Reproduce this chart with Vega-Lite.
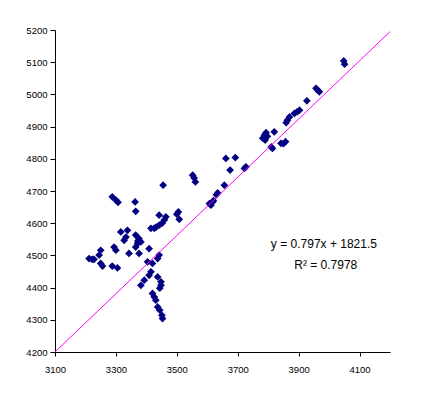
{
  "$schema": "https://vega.github.io/schema/vega-lite/v6.json",
  "width": 335,
  "height": 322,
  "autosize": "none",
  "padding": {"left": 55, "top": 30, "right": 41, "bottom": 45},
  "background": "white",
  "config": {"view": {"stroke": null}, "font": "Liberation Sans"},
  "encoding": {
    "x": {"field": "x", "type": "quantitative",
      "scale": {"domain": [3100, 4200], "nice": false, "zero": false},
      "axis": {"title": null, "grid": false, "values": [3100, 3300, 3500, 3700, 3900, 4100],
        "format": "d", "labelOverlap": false, "labelFlush": false,
        "domainColor": "black", "tickColor": "black", "labelColor": "black",
        "labelFontSize": 9.5, "tickSize": 4, "labelPadding": 8, "labelFont": "Liberation Sans"}},
    "y": {"field": "y", "type": "quantitative",
      "scale": {"domain": [4200, 5200], "nice": false, "zero": false},
      "axis": {"title": null, "grid": false, "values": [4200, 4300, 4400, 4500, 4600, 4700, 4800, 4900, 5000, 5100, 5200],
        "format": "d", "labelOverlap": false, "labelFlush": false, "tickCount": 11,
        "domainColor": "black", "tickColor": "black", "labelColor": "black",
        "labelFontSize": 9.5, "tickSize": 5, "labelPadding": 3, "labelFont": "Liberation Sans"}}
  },
  "layer": [
    {
      "data": {"values": [
        {"x":4048,"y":5104},{"x":4051,"y":5094},
        {"x":3957,"y":5019},{"x":3963,"y":5013},{"x":3968,"y":5008},
        {"x":3927,"y":4980},
        {"x":3903,"y":4951},{"x":3895,"y":4946},{"x":3886,"y":4941},{"x":3870,"y":4930},{"x":3863,"y":4920},{"x":3859,"y":4912},
        {"x":3793,"y":4881},{"x":3788,"y":4874},{"x":3782,"y":4864},{"x":3797,"y":4870},{"x":3790,"y":4858},
        {"x":3820,"y":4884},
        {"x":3810,"y":4837},{"x":3814,"y":4832},
        {"x":3842,"y":4848},{"x":3857,"y":4853},{"x":3850,"y":4847},
        {"x":3727,"y":4775},{"x":3722,"y":4770},
        {"x":3661,"y":4801},{"x":3692,"y":4804},
        {"x":3675,"y":4765},
        {"x":3656,"y":4718},
        {"x":3634,"y":4694},{"x":3630,"y":4688},
        {"x":3618,"y":4666},{"x":3612,"y":4656},{"x":3607,"y":4661},{"x":3620,"y":4670},
        {"x":3552,"y":4749},{"x":3557,"y":4740},{"x":3561,"y":4728},
        {"x":3455,"y":4718},
        {"x":3505,"y":4635},{"x":3500,"y":4628},{"x":3508,"y":4612},
        {"x":3288,"y":4682},{"x":3300,"y":4672},{"x":3307,"y":4665},
        {"x":3363,"y":4666},
        {"x":3365,"y":4637},
        {"x":3442,"y":4625},{"x":3464,"y":4620},{"x":3459,"y":4610},{"x":3452,"y":4600},{"x":3442,"y":4594},{"x":3432,"y":4588},{"x":3426,"y":4584},{"x":3415,"y":4584},
        {"x":3316,"y":4573},{"x":3338,"y":4578},{"x":3333,"y":4557},{"x":3327,"y":4547},
        {"x":3365,"y":4563},{"x":3376,"y":4552},{"x":3371,"y":4537},{"x":3382,"y":4542},{"x":3365,"y":4526},{"x":3372,"y":4545},
        {"x":3409,"y":4521},
        {"x":3376,"y":4506},
        {"x":3343,"y":4506},
        {"x":3294,"y":4526},{"x":3300,"y":4516},
        {"x":3250,"y":4516},{"x":3245,"y":4501},
        {"x":3212,"y":4490},{"x":3222,"y":4488},{"x":3228,"y":4488},
        {"x":3250,"y":4475},{"x":3256,"y":4467},
        {"x":3288,"y":4467},{"x":3305,"y":4461},
        {"x":3404,"y":4480},{"x":3420,"y":4475},{"x":3437,"y":4490},{"x":3442,"y":4501},
        {"x":3415,"y":4449},{"x":3409,"y":4438},{"x":3393,"y":4423},{"x":3382,"y":4407},
        {"x":3437,"y":4433},{"x":3448,"y":4418},{"x":3448,"y":4407},{"x":3444,"y":4398},
        {"x":3420,"y":4382},{"x":3426,"y":4371},{"x":3431,"y":4361},
        {"x":3437,"y":4340},{"x":3444,"y":4330},{"x":3451,"y":4314},{"x":3453,"y":4304}
      ]},
      "mark": {"type": "point", "shape": "diamond", "filled": true, "color": "#000080", "size": 60, "opacity": 1}
    },
    {
      "data": {"values": [{"x": 3100, "y": 4200}, {"x": 4200, "y": 5195}]},
      "mark": {"type": "line", "color": "#FF00FF", "strokeWidth": 1}
    },
    {
      "data": {"values": [
        {"x": 3983, "y": 4535, "label": "y = 0.797x + 1821.5"},
        {"x": 3989, "y": 4470, "label": "R² = 0.7978"}
      ]},
      "mark": {"type": "text", "fontSize": 12, "color": "black", "font": "Liberation Sans", "align": "center", "baseline": "middle"},
      "encoding": {
        "text": {"field": "label"}
      }
    }
  ]
}
